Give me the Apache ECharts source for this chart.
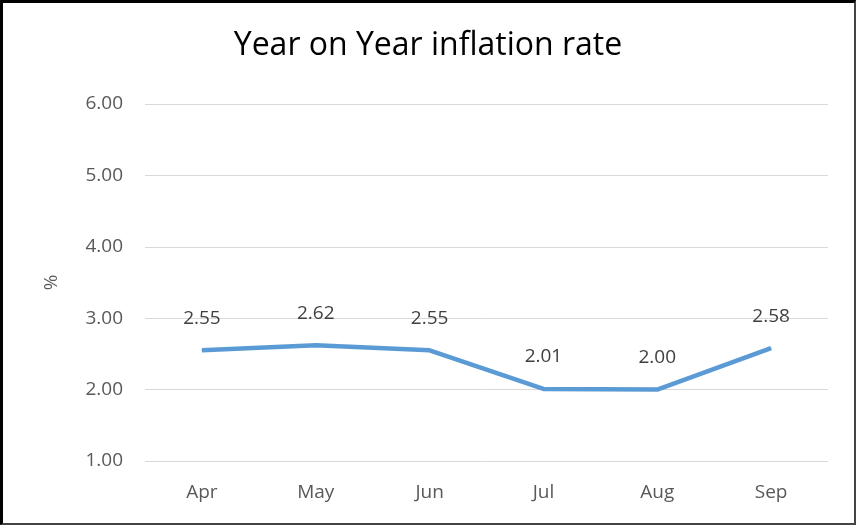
<!DOCTYPE html>
<html>
<head>
<meta charset="utf-8">
<script src="https://cdn.jsdelivr.net/npm/echarts@6/dist/echarts.min.js"></script>
<style>
html,body{margin:0;padding:0;background:#fff;}
#wrap{position:relative;width:856px;height:525px;}
#chart{position:absolute;left:0;top:0;width:856px;height:525px;}
#frame{position:absolute;left:0;top:0;width:856px;height:525px;box-sizing:border-box;border-left:3px solid #000;border-top:3px solid #000;border-right:2px solid #444;border-bottom:2px solid #444;pointer-events:none;}
</style>
</head>
<body>
<div id="wrap"><div id="chart"></div><div id="frame"></div></div>
<script>
const categories = ['Apr','May','Jun','Jul','Aug','Sep'];
const inflation = [2.55, 2.62, 2.55, 2.01, 2.00, 2.58];
const titleText = 'Year on Year inflation rate';
const yAxisName = '%';

const chart = echarts.init(document.getElementById('chart'));
chart.setOption({
  animation: false,
  backgroundColor: '#fff',
  title: {
    text: titleText,
    left: 'center',
    top: 25,
    textStyle: {fontFamily: 'Open Sans', fontSize: 32, fontWeight: 'normal', color: '#000'}
  },
  grid: {left: 145, right: 28, top: 104, bottom: 64},
  xAxis: {
    type: 'category',
    data: categories,
    boundaryGap: true,
    axisLine: {show: false},
    axisTick: {show: false},
    axisLabel: {color: '#595959', fontSize: 19, fontFamily: 'Open Sans', margin: 22}
  },
  yAxis: {
    type: 'value',
    min: 1, max: 6, interval: 1,
    name: yAxisName,
    nameLocation: 'middle',
    nameGap: 84,
    nameRotate: 90,
    nameTextStyle: {color: '#595959', fontSize: 19, fontFamily: 'Open Sans'},
    axisLine: {show: false},
    axisTick: {show: false},
    splitLine: {lineStyle: {color: '#d9d9d9', width: 1}},
    axisLabel: {color: '#595959', fontSize: 19, fontFamily: 'Open Sans', margin: 22,
      formatter: v => v.toFixed(2)}
  },
  series: [{
    type: 'line',
    data: inflation,
    symbol: 'circle',
    symbolSize: 1,
    showSymbol: true,
    itemStyle: {color: '#5B9BD5'},
    lineStyle: {color: '#5B9BD5', width: 4.5},
    label: {show: true, position: 'top', distance: 22, color: '#404040', fontSize: 19, fontFamily: 'Open Sans',
      formatter: p => p.value.toFixed(2)}
  }]
});
</script>
</body>
</html>
